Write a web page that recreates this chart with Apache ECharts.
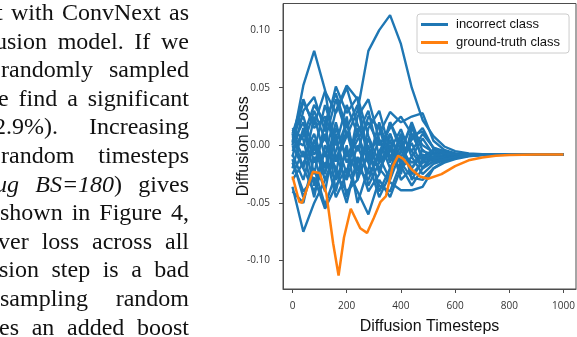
<!DOCTYPE html>
<html>
<head>
<meta charset="utf-8">
<script src="https://cdn.jsdelivr.net/npm/echarts@6/dist/echarts.min.js"></script>
<style>
  html, body { margin:0; padding:0; background:#fff; }
  #wrap { position:relative; width:577px; height:337px; overflow:hidden; }
  #chart { position:absolute; left:0; top:0; width:577px; height:337px; }
  #text { position:absolute; left:0; top:-2px; width:191px; height:340px; overflow:hidden; z-index:2;
          font-family:"Liberation Serif","Times New Roman",serif; font-size:24px; color:#111; }
  #text div { position:absolute; height:28.6px; line-height:28.6px; text-align:justify; text-align-last:justify; white-space:nowrap; }
  #text i { font-style:italic; }
</style>
</head>
<body>
<div id="wrap">
  <div id="chart"></div>
  <div id="text"></div>
</div>
<script>
// ---- paper text (left side, cut off) ----
const textLines = [
  "t with ConvNext as",
  "usion model. If we",
  "randomly sampled",
  "e find a significant",
  "2.9%).  Increasing",
  "random timesteps",
  "<i>ug BS=180</i>) gives",
  "shown in Figure 4,",
  "ver loss across all",
  "sion step is a bad",
  "sampling random",
  "es an added boost"
];
const textLeft = [-4, -5, 1, -2, -6, 1, -5, 0, -2, -1, 0, -1];

// ---- chart data ----
const timesteps = [0, 40, 80, 120, 160, 200, 240, 280, 320, 360, 400, 440, 480, 520, 560, 600, 650, 700, 800, 1000];

const incorrect1  = [-0.005, 0.012, -0.008, 0.006, -0.014, 0.008, 0.030, 0.082, 0.100, 0.113, 0.088, 0.050, 0.022, 0.008, -0.001, -0.005, -0.007, -0.0078, -0.008, -0.008];
const incorrect2  = [0.003, 0.052, 0.082, 0.048, -0.012, 0.012, -0.022, 0.006, -0.024, 0.010, -0.014, 0.002, -0.020, -0.006, -0.011, -0.010, -0.0085, -0.008, -0.008, -0.008];
const incorrect3  = [0.000, 0.038, 0.018, 0.047, 0.028, 0.050, 0.018, -0.002, -0.020, -0.004, 0.014, -0.010, 0.006, -0.008, -0.010, -0.009, -0.0083, -0.008, -0.008, -0.008];
const incorrect4  = [-0.010, 0.030, 0.042, 0.012, 0.051, 0.028, 0.042, 0.008, -0.015, 0.020, 0.000, -0.020, -0.004, -0.012, -0.011, -0.0095, -0.0085, -0.008, -0.008, -0.008];
const incorrect5  = [0.010, -0.020, 0.025, -0.010, 0.030, 0.052, 0.040, -0.010, 0.010, 0.029, 0.020, 0.025, 0.028, 0.004, -0.004, -0.007, -0.0075, -0.0078, -0.008, -0.008];
const incorrect6  = [-0.036, -0.075, -0.050, -0.030, -0.010, -0.030, 0.000, -0.025, -0.010, -0.030, -0.005, -0.015, -0.010, -0.014, -0.012, -0.010, -0.0088, -0.0082, -0.008, -0.008];
const incorrect7  = [-0.015, -0.040, -0.028, -0.055, -0.035, -0.020, -0.040, -0.060, -0.030, -0.045, -0.020, -0.010, -0.025, -0.016, -0.013, -0.011, -0.009, -0.0083, -0.008, -0.008];
const incorrect8  = [0.000, -0.020, -0.040, -0.015, -0.030, -0.005, -0.025, -0.010, -0.020, -0.032, -0.039, -0.039, -0.036, -0.020, -0.014, -0.011, -0.009, -0.0083, -0.008, -0.008];
const incorrect9  = [0.008, -0.010, 0.010, -0.020, 0.020, -0.015, 0.005, 0.020, 0.000, 0.015, 0.025, 0.010, -0.010, -0.004, -0.006, -0.0075, -0.0078, -0.008, -0.008, -0.008];
const incorrect10 = [-0.020, 0.015, -0.025, 0.020, -0.040, 0.000, -0.050, -0.020, 0.005, -0.010, 0.005, -0.025, -0.015, -0.012, -0.010, -0.009, -0.0085, -0.008, -0.008, -0.008];
const incorrect11 = [0.012, 0.025, -0.005, 0.035, 0.005, -0.025, 0.015, -0.035, -0.015, 0.000, -0.025, 0.015, 0.000, -0.006, -0.007, -0.0078, -0.008, -0.008, -0.008, -0.008];
const incorrect12 = [-0.040, -0.050, -0.010, -0.040, 0.010, -0.045, -0.015, 0.000, -0.040, -0.020, 0.000, -0.005, -0.020, -0.010, -0.010, -0.009, -0.0085, -0.0081, -0.008, -0.008];
const incorrect13 = [0.005, 0.000, 0.030, 0.005, 0.040, 0.010, -0.005, 0.025, 0.015, -0.015, 0.010, -0.005, 0.010, -0.002, -0.005, -0.007, -0.0076, -0.0079, -0.008, -0.008];
const incorrect14 = [-0.025, -0.005, -0.045, 0.000, -0.020, -0.050, -0.010, -0.040, -0.025, 0.005, -0.030, -0.020, -0.008, -0.012, -0.011, -0.0095, -0.0086, -0.0081, -0.008, -0.008];
const incorrect15 = [0.002, 0.020, -0.015, 0.010, -0.025, 0.025, -0.030, 0.015, 0.030, -0.005, -0.010, 0.005, 0.015, -0.003, -0.006, -0.0074, -0.0078, -0.008, -0.008, -0.008];
const incorrect16 = [-0.008, -0.030, 0.005, -0.025, 0.015, -0.010, 0.010, -0.015, -0.045, -0.025, 0.010, -0.030, -0.012, -0.010, -0.010, -0.009, -0.0085, -0.0081, -0.008, -0.008];
const incorrect17 = [0.015, 0.005, -0.035, -0.005, -0.045, -0.025, 0.025, 0.040, 0.005, -0.020, -0.005, 0.020, -0.005, -0.008, -0.009, -0.0085, -0.0082, -0.008, -0.008, -0.008];
const incorrect18 = [-0.012, -0.045, -0.020, -0.052, -0.025, -0.040, -0.030, -0.005, -0.035, -0.040, -0.015, -0.028, -0.030, -0.020, -0.015, -0.012, -0.0095, -0.0084, -0.008, -0.008];
const incorrect19 = [0.010, 0.040, 0.015, 0.025, 0.000, 0.035, 0.010, 0.030, -0.010, 0.020, -0.005, 0.018, -0.015, -0.004, -0.008, -0.0085, -0.0082, -0.008, -0.008, -0.008];
const incorrect20 = [-0.003, 0.008, 0.035, 0.020, 0.045, 0.015, 0.035, -0.015, 0.020, -0.010, -0.020, 0.008, 0.012, -0.002, -0.007, -0.008, -0.008, -0.008, -0.008, -0.008];
const incorrect21 = [-0.030, -0.015, 0.000, -0.030, -0.005, 0.020, -0.020, -0.030, -0.005, 0.010, -0.018, -0.035, -0.020, -0.014, -0.012, -0.010, -0.0088, -0.0082, -0.008, -0.008];

const orangeSteps = [0, 25, 35, 50, 75, 100, 125, 150, 170, 190, 215, 250, 275, 300, 325, 345, 370, 390, 410, 440, 470, 500, 550, 600, 650, 700, 750, 800, 900, 1000];
const groundTruth = [-0.027, -0.049, -0.050, -0.040, -0.023, -0.024, -0.042, -0.085, -0.113, -0.080, -0.055, -0.072, -0.076, -0.063, -0.049, -0.044, -0.018, -0.009, -0.012, -0.021, -0.027, -0.029, -0.025, -0.018, -0.013, -0.0105, -0.009, -0.0085, -0.008, -0.008];

const xTicks = [0, 200, 400, 600, 800, 1000];
const yTicks = [-0.10, -0.05, 0.00, 0.05, 0.10];

const incorrectSeries = [incorrect1, incorrect2, incorrect3, incorrect4, incorrect5, incorrect6, incorrect7, incorrect8, incorrect9,
  incorrect10, incorrect11, incorrect12, incorrect13, incorrect14, incorrect15, incorrect16, incorrect17, incorrect18,
  incorrect19, incorrect20, incorrect21];

// ---- text ----
const textBox = document.getElementById('text');
textLines.forEach((t, i) => {
  const d = document.createElement('div');
  d.innerHTML = t;
  d.style.top = (i * 28.6) + 'px';
  d.style.left = textLeft[i] + 'px';
  d.style.width = (189 - textLeft[i]) + 'px';
  textBox.appendChild(d);
});

// ---- chart ----
const BLUE = '#1f77b4', ORANGE = '#ff7f0e';
const chart = echarts.init(document.getElementById('chart'), null, { renderer: 'canvas' });
const series = incorrectSeries.map(vals => ({
  type: 'line', name: 'incorrect class',
  data: timesteps.map((t, i) => [t, vals[i]]),
  symbol: 'none', showSymbol: false, lineStyle: { color: BLUE, width: 2.4 }, itemStyle: { color: BLUE },
  z: 2, silent: true
}));
series.push({
  type: 'line', name: 'ground-truth class',
  data: orangeSteps.map((t, i) => [t, groundTruth[i]]),
  symbol: 'none', showSymbol: false, lineStyle: { color: ORANGE, width: 2.5 }, itemStyle: { color: ORANGE },
  z: 3, silent: true
});

const axisColor = '#4d4d4d';
chart.setOption({
  animation: false,
  backgroundColor: '#fff',
  grid: { left: 283, top: 3.5, right: 1, bottom: 48, outerBoundsMode: 'none', containLabel: false,
          show: true, borderColor: axisColor, borderWidth: 1, backgroundColor: 'transparent' },
  legend: {
    data: [{ name: 'incorrect class', icon: 'rect' }, { name: 'ground-truth class', icon: 'rect' }],
    orient: 'vertical', left: 417, top: 14,
    itemWidth: 27, itemHeight: 3, itemGap: 3,
    padding: [3, 9, 3, 4],
    backgroundColor: 'rgba(255,255,255,0.85)', borderColor: '#cccccc', borderWidth: 1, borderRadius: 3,
    textStyle: { fontFamily: 'Liberation Sans', fontSize: 13, lineHeight: 15, color: '#111', padding: [0, 0, 0, 3] }
  },
  xAxis: {
    type: 'value', min: -35, max: 1046,
    name: 'Diffusion Timesteps', nameLocation: 'middle', nameGap: 30, nameMoveOverlap: false,
    nameTextStyle: { fontFamily: 'Liberation Sans', fontSize: 16, color: '#111' },
    axisLine: { show: true, onZero: false, lineStyle: { color: axisColor, width: 1 } },
    axisTick: { show: true, length: 4, lineStyle: { color: axisColor }, customValues: xTicks },
    axisLabel: { fontFamily: 'Open Sans', fontSize: 10, color: '#333', margin: 12, customValues: xTicks,
                 formatter: v => String(Math.round(v)) },
    splitLine: { show: false }
  },
  yAxis: {
    type: 'value', min: -0.1247, max: 0.1231,
    name: 'Diffusion Loss', nameLocation: 'middle', nameGap: 31, nameMoveOverlap: false,
    nameTextStyle: { fontFamily: 'Liberation Sans', fontSize: 16, color: '#111' },
    axisLine: { show: true, onZero: false, lineStyle: { color: axisColor, width: 1 } },
    axisTick: { show: true, length: 4, lineStyle: { color: axisColor }, customValues: yTicks },
    axisLabel: { fontFamily: 'Open Sans', fontSize: 10, color: '#333', margin: 13, customValues: yTicks,
                 formatter: v => v.toFixed(2) },
    splitLine: { show: false }
  },
  series: series
});
</script>
</body>
</html>
